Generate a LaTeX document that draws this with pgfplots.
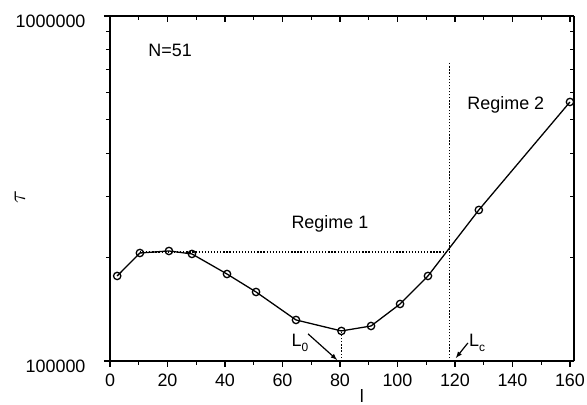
\documentclass[border=0pt]{standalone}
\usepackage{fontspec}
\setmainfont{Liberation Sans}
\usepackage{pgfplots}
\pgfplotsset{compat=1.18}

\pgfplotsset{
  mybox/.style={
    scale only axis, width=464bp, height=345bp,
    xmin=0, xmax=161.4, ymin=1e5, ymax=1e6,
    xtick={0,20,...,160}, minor x tick num=1,
    ytick={1e5,1e6},
    axis line style={line width=1.5pt},
    major tick length=6bp, minor tick length=4bp,
    tick style={black, line width=1.1pt},
  }
}
\tikzstyle{dots}=[line width=1.3pt, dash pattern=on 1.3pt off 1.8pt]

\begin{document}
\begin{tikzpicture}[font=\fontsize{18}{21}\selectfont]
% top and right: ticks point inwards
\begin{semilogyaxis}[mybox, axis x line*=top, axis y line*=right, tick align=inside,
  xticklabels={}, yticklabels={}]
\end{semilogyaxis}
% bottom and left with labels and data
\begin{semilogyaxis}[mybox, axis x line*=bottom, axis y line*=left, tick align=outside,
  yticklabels={100000,1000000},
  /pgf/number format/assume math mode=true,
  yticklabel style={xshift=-15bp, yshift=-5bp},
  xticklabel style={yshift=-3bp},
  clip=false]

\addplot[dots] coordinates {(10.4,207000) (118,207000)};
\addplot[dots] coordinates {(118,100000) (118,735600)};
\addplot[dots] coordinates {(80.5,100000) (80.5,122200)};

\addplot[black, line width=1.3pt, mark=o, mark size=3.7pt,
  mark options={solid, fill=white, line width=1.3pt}] coordinates {
  (2.5,176400)
  (10.4,205600)
  (20.5,208400)
  (28.5,204300)
  (40.7,178700)
  (50.8,158500)
  (64.7,131500)
  (80.5,122200)
  (90.8,126300)
  (100.9,146300)
  (110.6,176400)
  (128.3,274000)
  (160,563400)
};

\node at (axis cs:20.9,796000) {N=51};
\node at (axis cs:76.5,249600) {Regime 1};
\node at (axis cs:137.7,552000) {Regime 2};
\node at (axis cs:66.1,112800) {L\raisebox{-0.5ex}{\fontsize{12}{12}\selectfont 0}};
\node at (axis cs:127.7,113000) {L\raisebox{-0.5ex}{\fontsize{12}{12}\selectfont c}};
\draw[-latex, line width=1.2pt] (axis cs:68.9,119800) -- (axis cs:79,100700);
\draw[-latex, line width=1.2pt] (axis cs:124.5,112800) -- (axis cs:120.3,102000);
% axis titles
\node[anchor=north, inner sep=0pt] at ([yshift=-28bp] axis cs:87.6,100000) {l};
\node[rotate=90, inner sep=0pt, scale=1.4] at ([xshift=-90bp] rel axis cs:0,0.475) {$\tau$};
\end{semilogyaxis}
\pgfresetboundingbox
\path (-110bp,-44bp) rectangle (477bp,361bp);
\end{tikzpicture}
\end{document}
